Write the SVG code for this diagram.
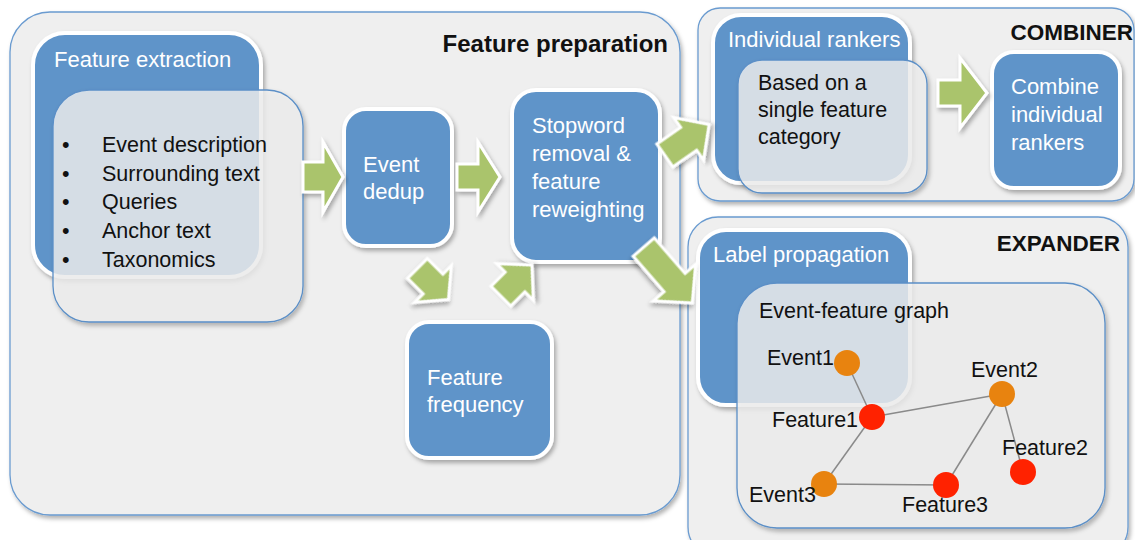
<svg xmlns="http://www.w3.org/2000/svg" width="1135" height="540" viewBox="0 0 1135 540">
<defs>
<filter id="sh" x="-10%" y="-10%" width="125%" height="125%">
<feDropShadow dx="2" dy="3" stdDeviation="2" flood-color="#000" flood-opacity="0.3"/>
</filter>
<style>
.panel{fill:#efefef;stroke:#6a9bd0;stroke-width:1.3;filter:url(#sh)}
.box{fill:#5f94c9;stroke:#fff;stroke-width:4;filter:url(#sh)}
.ovl{fill:#f0f0f0;fill-opacity:0.8;stroke:#5b8fc7;stroke-width:1.3;filter:url(#sh)}
.arr{fill:#aac46c;stroke:#fff;stroke-width:3;stroke-linejoin:miter;filter:url(#sh)}
.edge{stroke:#8a8a8a;stroke-width:1.5;fill:none}
.wt{font-family:"Liberation Sans",Arial,sans-serif;font-size:22px;fill:#fff}
.bt{font-family:"Liberation Sans",Arial,sans-serif;font-size:21.5px;fill:#111}
.ttl{font-family:"Liberation Sans",Arial,sans-serif;font-size:22.5px;font-weight:bold;fill:#111;text-anchor:end}
.big{font-size:24px}
.ev{fill:#e8830f}
.ft{fill:#ff2200}
</style>
</defs>

<g id="panel-feature-preparation">
<rect class="panel" x="10" y="12" width="670" height="503" rx="40"/>
<text class="ttl big" x="668" y="52">Feature preparation</text>
</g>
<g id="panel-combiner">
<rect class="panel" x="698" y="8" width="436" height="193" rx="22"/>
<text class="ttl" x="1133" y="40">COMBINER</text>
</g>
<g id="panel-expander">
<rect class="panel" x="688" y="217" width="440" height="340" rx="30"/>
<text class="ttl" x="1120" y="251">EXPANDER</text>
</g>

<g id="feature-extraction">
<rect class="box" x="33" y="33" width="228" height="244" rx="32"/>
<text class="wt" x="54" y="67">Feature extraction</text>
<rect class="ovl" x="53" y="90" width="250" height="232" rx="36"/>
<text class="bt" x="62" y="152">•</text><text class="bt" x="102" y="152">Event description</text>
<text class="bt" x="62" y="181">•</text><text class="bt" x="102" y="181">Surrounding text</text>
<text class="bt" x="62" y="209">•</text><text class="bt" x="102" y="209">Queries</text>
<text class="bt" x="62" y="238">•</text><text class="bt" x="102" y="238">Anchor text</text>
<text class="bt" x="62" y="267">•</text><text class="bt" x="102" y="267">Taxonomics</text>
</g>

<g id="event-dedup">
<rect class="box" x="344" y="109" width="108" height="137" rx="22"/>
<text class="wt" x="363" y="172">Event</text>
<text class="wt" x="363" y="199">dedup</text>
</g>

<g id="stopword">
<rect class="box" x="512" y="90" width="148" height="172" rx="24"/>
<text class="wt" x="532" y="133">Stopword</text>
<text class="wt" x="532" y="161">removal &amp;</text>
<text class="wt" x="532" y="189">feature</text>
<text class="wt" x="532" y="217">reweighting</text>
</g>

<g id="feature-frequency">
<rect class="box" x="407" y="322" width="145" height="136" rx="22"/>
<text class="wt" x="427" y="385">Feature</text>
<text class="wt" x="427" y="412">frequency</text>
</g>

<g id="individual-rankers">
<rect class="box" x="713" y="15" width="197" height="168" rx="28"/>
<text class="wt" x="728" y="47">Individual rankers</text>
<rect class="ovl" x="738" y="60" width="189" height="133" rx="24"/>
<text class="bt" x="758" y="90">Based on a</text>
<text class="bt" x="758" y="117">single feature</text>
<text class="bt" x="758" y="144">category</text>
</g>

<g id="combine-rankers">
<rect class="box" x="992" y="52" width="128" height="136" rx="22"/>
<text class="wt" x="1011" y="94">Combine</text>
<text class="wt" x="1011" y="122">individual</text>
<text class="wt" x="1011" y="150">rankers</text>
</g>

<g id="label-propagation">
<rect class="box" x="698" y="230" width="212" height="175" rx="28"/>
<text class="wt" x="713" y="262">Label propagation</text>
<rect class="ovl" x="737" y="283" width="368" height="245" rx="40"/>
<text class="bt" x="759" y="318">Event-feature graph</text>
</g>

<g id="connectors">
<path class="arr" transform="translate(323,177)" d="M-20,-15 H0 V-35 L20,0 L0,35 V15 H-20 Z"/>
<path class="arr" transform="translate(478,177)" d="M-21,-13 H0 V-35 L22,0 L0,35 V13 H-21 Z"/>
<path class="arr" transform="translate(433,284) rotate(45)" d="M-22,-14 H0 V-26 L22,0 L0,26 V14 H-22 Z"/>
<path class="arr" transform="translate(515,282) rotate(-45)" d="M-20,-14 H0 V-26 L24,0 L0,26 V14 H-20 Z"/>
<path class="arr" transform="translate(687,140) rotate(-35)" d="M-27,-14 H2 V-26 L27,0 L2,26 V14 H-27 Z"/>
<path class="arr" transform="translate(668,275) rotate(49)" d="M-37,-14 H10 V-28 L37,0 L10,28 V14 H-37 Z"/>
<path class="arr" transform="translate(960,93)" d="M-22,-13 H0 V-35 L27,0 L0,35 V13 H-22 Z"/>
<line class="edge" x1="847" y1="363" x2="872" y2="417"/>
<line class="edge" x1="872" y1="417" x2="1002" y2="394"/>
<line class="edge" x1="872" y1="417" x2="824" y2="484"/>
<line class="edge" x1="824" y1="484" x2="946" y2="485"/>
<line class="edge" x1="946" y1="485" x2="1002" y2="394"/>
<line class="edge" x1="1002" y1="394" x2="1023" y2="472"/>
</g>

<g id="event1"><circle class="ev" cx="847" cy="363" r="13"/><text class="bt" x="767" y="365">Event1</text></g>
<g id="feature1"><circle class="ft" cx="872" cy="417" r="13"/><text class="bt" x="772" y="427">Feature1</text></g>
<g id="event2"><circle class="ev" cx="1002" cy="394" r="13"/><text class="bt" x="971" y="377">Event2</text></g>
<g id="feature2"><circle class="ft" cx="1023" cy="472" r="13"/><text class="bt" x="1002" y="455">Feature2</text></g>
<g id="event3"><circle class="ev" cx="824" cy="484" r="13"/><text class="bt" x="749" y="502">Event3</text></g>
<g id="feature3"><circle class="ft" cx="946" cy="485" r="13"/><text class="bt" x="902" y="512">Feature3</text></g>
</svg>
